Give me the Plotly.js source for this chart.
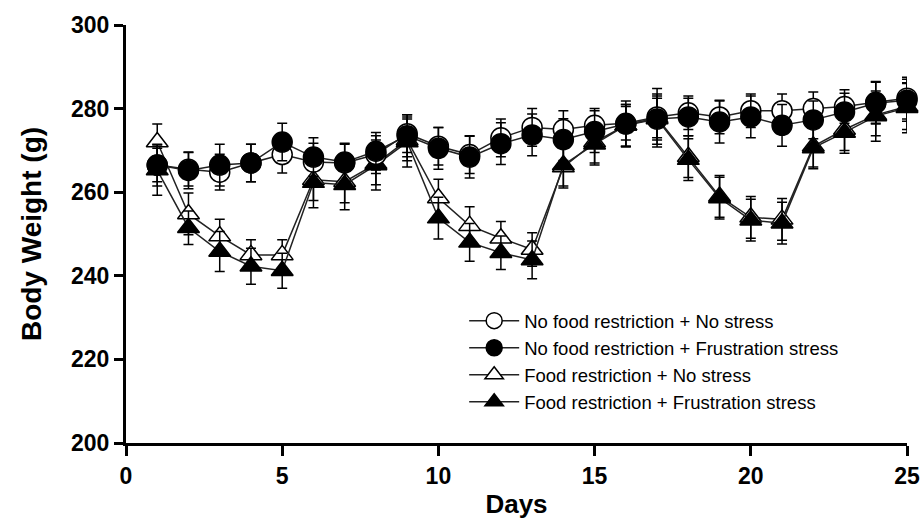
<!DOCTYPE html>
<html>
<head>
<meta charset="utf-8">
<script src="https://cdn.plot.ly/plotly-3.0.1.min.js"></script>
<style>html,body{margin:0;padding:0;background:#fff;}#chart{width:923px;height:520px;}</style>
</head>
<body>
<div id="chart"></div>
<script>
const days = [1,2,3,4,5,6,7,8,9,10,11,12,13,14,15,16,17,18,19,20,21,22,23,24,25];

const seriesNames = [
  "No food restriction + No stress",
  "No food restriction + Frustration stress",
  "Food restriction + No stress",
  "Food restriction + Frustration stress"
];

const noFrNoStress = [266.5,265.5,264.8,267,269,267.2,267,269,274,271,269,273,275.5,275,276,276.5,278,279,278,279.5,279.5,280,280.5,281.5,282.5];
const noFrStress   = [266.5,265.2,266.5,267,272,268.4,267.2,269.8,273.5,270.5,268.4,271.6,273.7,272.6,274.5,276.3,277.5,278,276.8,278,276,277.3,279.2,281.3,282];
const frNoStress   = [272,254.8,249.5,245,245,263,262.5,266.8,272.5,258.6,252,249,246.3,266,272,276,277.8,268.5,259,254,253.5,271,275,278.5,280.5];
const frStress     = [265.3,251.5,245.8,242.3,241.2,262.3,261.8,266.5,272,253.8,248,245.5,243.8,266.5,271.5,276,277.5,267.8,258.6,253.3,252.6,270.6,274.3,278.2,280.2];

const errNoFrNoStress = [4,4,4.3,4.5,4.4,4.5,4.5,4.5,4.5,4.5,4.5,4.5,4.5,4.5,4,4,5,4,4,4,4,4,4,5,5];
const errNoFrStress   = [5,4.4,5,4.5,4.5,4.6,4.5,4.5,5,5,5,5,5,5,5,5.5,5,4.5,5,5,5,4.5,4.5,5,5];
const errFrNoStress   = [4.3,5,4,3.6,3.6,5,5,5,5,4.5,4.5,4,4,5,5,5,7,5,5,5,5,5,5,5,5.5];
const errFrStress     = [6,4,4.8,4.3,4.2,6,6,6,6,5,4.5,4,4.5,5,5,5,6,5,5,5,5,5,5,6,6];

const xTicks = [0,5,10,15,20,25];
const yTicks = [200,220,240,260,280,300];

const FONT = "Liberation Sans, Arial, Helvetica, sans-serif";

function mk(name, y, err, symbol, fill, size, rank) {
  return {
    type: "scatter", mode: "lines+markers", name: name, x: days, y: y,
    legendrank: rank,
    cliponaxis: false,
    line: {color: "#222", width: 1.5},
    marker: {symbol: symbol, size: size, color: fill, line: {color: "#000", width: 1.5}},
    error_y: {type: "data", array: err, visible: true, color: "#000", thickness: 1.5, width: 5}
  };
}

const traces = [
  mk(seriesNames[2], frNoStress, errFrNoStress, "triangle-up", "#fff", 19, 3),
  mk(seriesNames[3], frStress, errFrStress, "triangle-up", "#000", 19, 4),
  mk(seriesNames[0], noFrNoStress, errNoFrNoStress, "circle", "#fff", 20, 1),
  mk(seriesNames[1], noFrStress, errNoFrStress, "circle", "#000", 20, 2)
];

const layout = {
  width: 923, height: 520,
  margin: {l: 126, r: 16, t: 25, b: 77},
  paper_bgcolor: "#fff", plot_bgcolor: "#fff",
  font: {family: FONT, color: "#000"},
  showlegend: true,
  legend: {
    x: 0.433, y: 0.337, xanchor: "left", yanchor: "top",
    bgcolor: "rgba(0,0,0,0)", borderwidth: 0,
    itemwidth: 50,
    font: {family: FONT, size: 18.5, color: "#000"},
    traceorder: "normal", tracegroupgap: 0
  },
  xaxis: {
    range: [0, 25], tickvals: xTicks, ticktext: xTicks.map(String),
    showgrid: false, zeroline: false,
    showline: true, linecolor: "#000", linewidth: 3,
    ticks: "outside", ticklen: 10, tickwidth: 3, tickcolor: "#000",
    tickfont: {family: FONT, size: 23, weight: "bold", color: "#000"},
    title: {text: "Days", font: {family: FONT, size: 26, weight: "bold", color: "#000"}, standoff: 8}
  },
  yaxis: {
    range: [200, 300], tickvals: yTicks, ticktext: yTicks.map(String),
    showgrid: false, zeroline: false,
    showline: true, linecolor: "#000", linewidth: 3,
    ticks: "outside", ticklen: 9, tickwidth: 3, tickcolor: "#000",
    tickfont: {family: FONT, size: 23, weight: "bold", color: "#000"},
    title: {text: "Body Weight (g)", font: {family: FONT, size: 28, weight: "bold", color: "#000"}, standoff: 22}
  }
};

Plotly.newPlot("chart", traces, layout, {staticPlot: true, displayModeBar: false});
</script>
</body>
</html>
